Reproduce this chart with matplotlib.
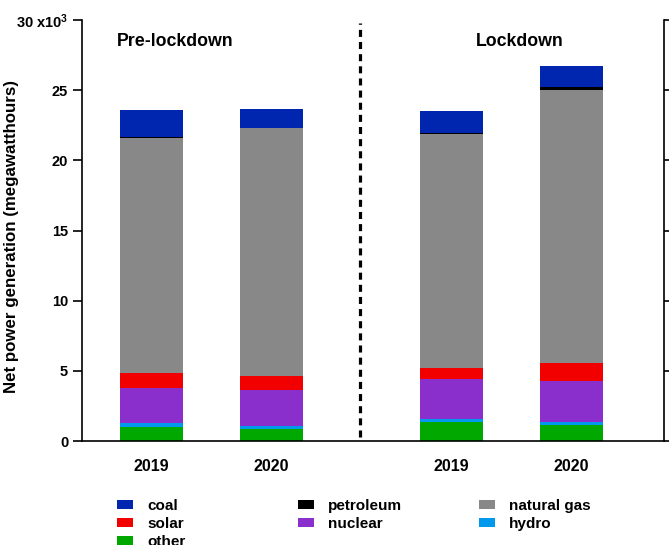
import numpy as np
import matplotlib.pyplot as plt

plt.rcParams["font.family"] = ["Liberation Sans", "DejaVu Sans"]
plt.rcParams["font.weight"] = "bold"
plt.rcParams["mathtext.default"] = "regular"

# net generation, thousands of megawatthours
years = ["2019", "2020", "2019", "2020"]
other = [1.00, 0.86, 1.35, 1.14]
hydro = [0.26, 0.23, 0.20, 0.24]
nuclear = [2.50, 2.55, 2.85, 2.90]
solar = [1.06, 1.01, 0.80, 1.30]
natural_gas = [16.75, 17.62, 16.67, 19.42]
petroleum = [0.10, 0.03, 0.07, 0.20]
coal = [1.90, 1.34, 1.60, 1.50]

period_labels = ["Pre-lockdown", "Lockdown"]
yticks = [0, 5, 10, 15, 20, 25, 30]

sources = [
    ("other", other, "#00a800"),
    ("hydro", hydro, "#0099ee"),
    ("nuclear", nuclear, "#8a2fcc"),
    ("solar", solar, "#f20000"),
    ("natural gas", natural_gas, "#888888"),
    ("petroleum", petroleum, "#000000"),
    ("coal", coal, "#0026b0"),
]

x = np.array([0, 1, 2.5, 3.5])

fig = plt.figure(figsize=(6.69, 5.45), dpi=100)
ax = fig.add_axes([0.1226, 0.1908, 0.8699, 0.7725])

bottom = np.zeros(len(x))
handles = {}
for name, vals, color in sources:
    bars = ax.bar(x, vals, width=0.525, bottom=bottom, color=color, linewidth=0)
    handles[name] = bars
    bottom += np.array(vals)

ax.plot([1.735, 1.735], [0.3, 29.8], color="black", linestyle=(0, (2.2, 1.6)), linewidth=2.3)

ax.set_xlim(-0.58, 4.27)
ax.set_ylim(0, 30)
ax.set_xticks(x)
ax.set_xticklabels(years, fontsize=11.5, fontweight="bold")
ax.tick_params(axis="x", length=0, pad=13)

ax.set_yticks(yticks)
ylabels = [str(t) for t in yticks]
ylabels[-1] = "30 x10$^{3}$"
ax.set_yticklabels(ylabels, fontsize=10.5, fontweight="bold")
ax.tick_params(axis="y", which="both", direction="out", length=6.5, width=1.2,
               right=True, labelright=False, pad=3.5)
ax.set_ylabel("Net power generation (megawatthours)", fontsize=12.2, fontweight="bold")
ax.yaxis.set_label_coords(-0.108, 0.486)

ax.spines["top"].set_visible(False)
for s in ["left", "right", "bottom"]:
    ax.spines[s].set_linewidth(1.2)

ax.text(0.06, 0.948, period_labels[0], transform=ax.transAxes, fontsize=12.8,
        fontweight="bold", ha="left", va="center")
ax.text(0.753, 0.948, period_labels[1], transform=ax.transAxes, fontsize=12.8,
        fontweight="bold", ha="center", va="center")

# legend laid out row-wise in three fixed columns, as in the original
columns = [["coal", "solar", "other"], ["petroleum", "nuclear"], ["natural gas", "hydro"]]
col_x = [117 / 669, 298 / 669, 479 / 669]
for names, cx in zip(columns, col_x):
    leg = fig.legend([handles[n] for n in names], names, loc="upper left",
                     bbox_to_anchor=(cx, 0.0845), frameon=False, fontsize=11,
                     handlelength=1.05, handleheight=0.59, handletextpad=0.92,
                     labelspacing=0.26, borderaxespad=0, borderpad=0)

fig.savefig("out.png", dpi=100)
